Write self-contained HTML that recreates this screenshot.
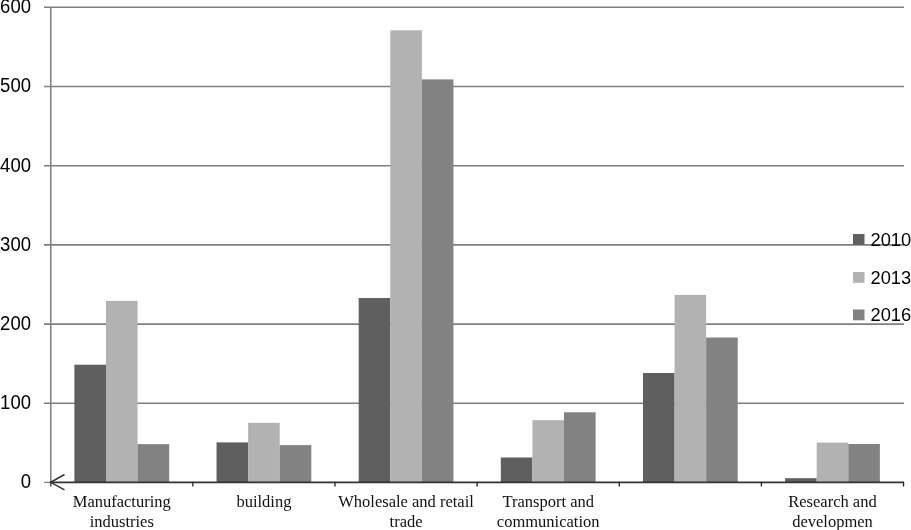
<!DOCTYPE html>
<html><head><meta charset="utf-8"><style>
html,body{margin:0;padding:0;background:#fff;width:911px;height:530px;overflow:hidden}
svg{display:block;will-change:transform}
.ya{font-family:"Liberation Sans",sans-serif;font-size:19px;fill:#000}
.xa{font-family:"Liberation Serif",serif;font-size:16.5px;fill:#111}
.lg{font-family:"Liberation Sans",sans-serif;font-size:18.5px;fill:#000}
</style></head><body>
<svg width="911" height="530" viewBox="0 0 911 530">
<rect width="911" height="530" fill="#fff"/>
<line x1="44" y1="403.30" x2="904" y2="403.30" stroke="#7f7f7f" stroke-width="1.6"/>
<line x1="44" y1="324.10" x2="904" y2="324.10" stroke="#7f7f7f" stroke-width="1.6"/>
<line x1="44" y1="244.90" x2="904" y2="244.90" stroke="#7f7f7f" stroke-width="1.6"/>
<line x1="44" y1="165.70" x2="904" y2="165.70" stroke="#7f7f7f" stroke-width="1.6"/>
<line x1="44" y1="86.50" x2="904" y2="86.50" stroke="#7f7f7f" stroke-width="1.6"/>
<line x1="44" y1="7.30" x2="904" y2="7.30" stroke="#7f7f7f" stroke-width="1.6"/>
<rect x="74.40" y="364.70" width="31.59" height="117.30" fill="#5f5f5f"/>
<rect x="105.99" y="300.90" width="31.59" height="181.10" fill="#b2b2b2"/>
<rect x="137.58" y="444.10" width="31.59" height="37.90" fill="#828282"/>
<rect x="216.54" y="442.40" width="31.59" height="39.60" fill="#5f5f5f"/>
<rect x="248.13" y="422.80" width="31.59" height="59.20" fill="#b2b2b2"/>
<rect x="279.72" y="445.10" width="31.59" height="36.90" fill="#828282"/>
<rect x="358.68" y="298.00" width="31.59" height="184.00" fill="#5f5f5f"/>
<rect x="390.27" y="30.30" width="31.59" height="451.70" fill="#b2b2b2"/>
<rect x="421.86" y="79.40" width="31.59" height="402.60" fill="#828282"/>
<rect x="500.82" y="457.50" width="31.59" height="24.50" fill="#5f5f5f"/>
<rect x="532.41" y="420.20" width="31.59" height="61.80" fill="#b2b2b2"/>
<rect x="564.00" y="412.30" width="31.59" height="69.70" fill="#828282"/>
<rect x="642.96" y="373.00" width="31.59" height="109.00" fill="#5f5f5f"/>
<rect x="674.55" y="294.90" width="31.59" height="187.10" fill="#b2b2b2"/>
<rect x="706.14" y="337.50" width="31.59" height="144.50" fill="#828282"/>
<rect x="785.10" y="478.20" width="31.59" height="3.80" fill="#5f5f5f"/>
<rect x="816.69" y="442.60" width="31.59" height="39.40" fill="#b2b2b2"/>
<rect x="848.28" y="444.00" width="31.59" height="38.00" fill="#828282"/>
<line x1="50.75" y1="7" x2="50.75" y2="482" stroke="#7d7d7d" stroke-width="1.5"/>
<line x1="44" y1="482.4" x2="50" y2="482.4" stroke="#8a8a8a" stroke-width="1.4"/>
<line x1="50.75" y1="482" x2="50.75" y2="486.5" stroke="#444" stroke-width="1.4"/>
<line x1="50" y1="482.4" x2="904" y2="482.4" stroke="#333" stroke-width="1.6"/>
<line x1="192.85" y1="482.0" x2="192.85" y2="486.5" stroke="#222" stroke-width="1.3"/>
<line x1="334.99" y1="482.0" x2="334.99" y2="486.5" stroke="#222" stroke-width="1.3"/>
<line x1="477.13" y1="482.0" x2="477.13" y2="486.5" stroke="#222" stroke-width="1.3"/>
<line x1="619.27" y1="482.0" x2="619.27" y2="486.5" stroke="#222" stroke-width="1.3"/>
<line x1="761.41" y1="482.0" x2="761.41" y2="486.5" stroke="#222" stroke-width="1.3"/>
<line x1="903.55" y1="482.0" x2="903.55" y2="486.5" stroke="#222" stroke-width="1.3"/>
<polyline points="64.5,474.5 50.7,482.3 64.5,489.8" fill="none" stroke="#333" stroke-width="1.5"/>
<text transform="translate(31.0,488.30) scale(0.975,1.045)" text-anchor="end" class="ya">0</text>
<text transform="translate(31.0,409.10) scale(0.975,1.045)" text-anchor="end" class="ya">100</text>
<text transform="translate(31.0,329.90) scale(0.975,1.045)" text-anchor="end" class="ya">200</text>
<text transform="translate(31.0,250.70) scale(0.975,1.045)" text-anchor="end" class="ya">300</text>
<text transform="translate(31.0,171.50) scale(0.975,1.045)" text-anchor="end" class="ya">400</text>
<text transform="translate(31.0,92.30) scale(0.975,1.045)" text-anchor="end" class="ya">500</text>
<text transform="translate(31.0,13.10) scale(0.975,1.045)" text-anchor="end" class="ya">600</text>
<text x="121.78" y="506.80" text-anchor="middle" class="xa">Manufacturing</text>
<text x="121.78" y="526.60" text-anchor="middle" class="xa">industries</text>
<text x="263.92" y="506.80" text-anchor="middle" class="xa">building</text>
<text x="406.06" y="506.80" text-anchor="middle" class="xa">Wholesale and retail</text>
<text x="406.06" y="526.60" text-anchor="middle" class="xa">trade</text>
<text x="548.20" y="506.80" text-anchor="middle" class="xa">Transport and</text>
<text x="548.20" y="526.60" text-anchor="middle" class="xa">communication</text>
<text x="832.48" y="506.80" text-anchor="middle" class="xa">Research and</text>
<text x="832.48" y="526.60" text-anchor="middle" class="xa">developmen</text>
<rect x="853" y="234.0" width="11.5" height="10.8" fill="#5f5f5f"/>
<text transform="translate(870.5,245.80) scale(0.99,1.04)" class="lg">2010</text>
<rect x="853" y="272.0" width="11.5" height="10.8" fill="#b2b2b2"/>
<text transform="translate(870.5,283.80) scale(0.99,1.04)" class="lg">2013</text>
<rect x="853" y="309.5" width="11.5" height="10.8" fill="#828282"/>
<text transform="translate(870.5,321.30) scale(0.99,1.04)" class="lg">2016</text>
</svg>
</body></html>
